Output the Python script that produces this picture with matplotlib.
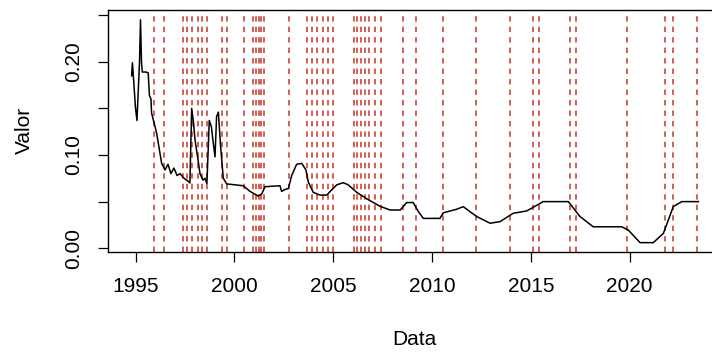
import matplotlib
matplotlib.use("Agg")
import matplotlib.pyplot as plt
import numpy as np

plt.rcParams['font.family'] = ['Liberation Sans', 'DejaVu Sans']

# series (decimal year, value)
anos = [1994.80, 1994.84, 1994.92, 1994.99, 1995.07, 1995.15, 1995.20, 1995.25,
        1995.30, 1995.34, 1995.53, 1995.64, 1995.70, 1995.78, 1995.81, 1995.93,
        1996.07, 1996.18, 1996.32, 1996.49, 1996.64, 1996.79, 1996.94, 1997.10,
        1997.25, 1997.45, 1997.65, 1997.75, 1997.84, 1997.93, 1998.01, 1998.16,
        1998.26, 1998.41, 1998.51, 1998.61, 1998.73, 1998.84, 1998.92, 1999.02,
        1999.10, 1999.19, 1999.30, 1999.44, 1999.61, 2000.45, 2000.79, 2001.04,
        2001.19, 2001.38, 2001.55, 2002.31, 2002.39, 2002.56, 2002.73, 2002.90,
        2003.15, 2003.41, 2003.62, 2003.74, 2003.99, 2004.33, 2004.67, 2004.92,
        2005.18, 2005.51, 2005.76, 2006.19, 2006.70, 2007.37, 2007.88, 2008.39,
        2008.72, 2009.05, 2009.29, 2009.56, 2010.40, 2010.57, 2011.25, 2011.58,
        2012.26, 2012.94, 2013.44, 2014.11, 2014.79, 2015.05, 2015.63, 2016.90,
        2017.49, 2018.16, 2019.60, 2019.93, 2020.53, 2021.20, 2021.71, 2022.21,
        2022.64, 2023.48]
valores = [0.185, 0.199, 0.175, 0.152, 0.137, 0.175, 0.200, 0.245,
           0.200, 0.189, 0.189, 0.188, 0.164, 0.160, 0.145, 0.135,
           0.123, 0.109, 0.091, 0.084, 0.090, 0.080, 0.086, 0.078,
           0.080, 0.075, 0.072, 0.070, 0.150, 0.135, 0.116, 0.095,
           0.080, 0.073, 0.075, 0.0695, 0.137, 0.130, 0.115, 0.098,
           0.141, 0.146, 0.110, 0.075, 0.069, 0.067, 0.061, 0.058,
           0.056, 0.058, 0.066, 0.067, 0.061, 0.063, 0.064, 0.078,
           0.090, 0.091, 0.084, 0.071, 0.060, 0.057, 0.057, 0.0625,
           0.068, 0.0703, 0.068, 0.060, 0.053, 0.045, 0.041, 0.041,
           0.049, 0.049, 0.040, 0.032, 0.032, 0.038, 0.0418, 0.0446,
           0.034, 0.0268, 0.0285, 0.0375, 0.040, 0.043, 0.050, 0.050,
           0.034, 0.023, 0.023, 0.0196, 0.006, 0.006, 0.016, 0.0446,
           0.050, 0.050]

# dates of the vertical marks
marcas = [1995.91, 1996.42, 1997.38, 1997.59, 1997.86, 1998.14, 1998.38, 1998.63,
          1999.38, 1999.62, 2000.51, 2000.96, 2001.10, 2001.24, 2001.36, 2001.49,
          2002.78, 2003.67, 2003.92, 2004.16, 2004.46, 2004.75, 2005.01, 2006.04,
          2006.23, 2006.43, 2006.63, 2006.83, 2007.13, 2007.42, 2008.51, 2009.20,
          2010.58, 2012.22, 2013.94, 2015.09, 2015.42, 2017.00, 2017.30, 2019.86,
          2021.80, 2022.20, 2023.42]

xticks = [1995, 2000, 2005, 2010, 2015, 2020]
yticks = [0.00, 0.05, 0.10, 0.15, 0.20, 0.25]
ytick_labels = ['0.00', '', '0.10', '', '0.20', '']

fig = plt.figure(figsize=(7.12, 3.54), dpi=100)
ax = fig.add_axes([107.5 / 712, 1 - 251.5 / 354, (721.5 - 107.5) / 712, (251.5 - 10) / 354])

ax.plot(anos, valores, color='black', lw=1.1, zorder=3)
for m in marcas:
    ax.axvline(m, color='#c8362a', lw=1.3, ls=(0, (3.0, 2.8)), alpha=0.85, zorder=2)

ax.set_xlim(1993.58, 2024.65)
ax.set_ylim(-0.0035, 0.2555)

ax.set_xticks(xticks)
ax.set_yticks(yticks)
ax.set_yticklabels(ytick_labels, rotation=90, va='center')
ax.tick_params(axis='both', length=7.5, width=0.9, labelsize=15, color='black')
ax.tick_params(axis='x', pad=11)
ax.tick_params(axis='y', pad=10)

for s in ax.spines.values():
    s.set_linewidth(1.0)

ax.set_xlabel('Data', fontsize=15, labelpad=24)
ax.set_ylabel('Valor', fontsize=15, labelpad=22)

fig.savefig('out.png', dpi=100)
